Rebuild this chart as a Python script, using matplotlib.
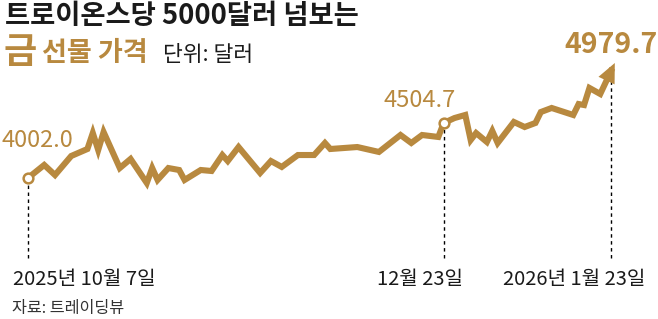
import matplotlib
matplotlib.use('Agg')
import matplotlib.pyplot as plt

# gold futures, days counted from 2025-10-07
days = [0, 3, 5, 8, 11, 12, 13, 14, 17, 19, 22, 23, 24, 26, 28, 29, 32, 34, 36, 37,
        39, 43, 45, 47, 50, 53, 55, 56, 61, 65, 69, 71, 73, 76, 77, 79, 81, 82, 83, 85,
        86, 87, 90, 92, 94, 95, 97, 101, 102, 103, 104, 106, 108]
prices = [4002.0, 4121, 4029, 4203, 4267, 4413, 4258, 4422, 4093, 4176, 3956, 4093, 3984, 4093,
          4075, 3984, 4075, 4066, 4212, 4157, 4285, 4048, 4157, 4103, 4212, 4212, 4322, 4267,
          4285, 4240, 4395, 4322, 4395, 4377, 4504.7, 4550, 4578, 4349, 4413, 4331, 4432,
          4322, 4514, 4468, 4505, 4605, 4642, 4578, 4678, 4669, 4825, 4770, 4979.7]

marked_days = [0, 77, 108]
marked_labels = ['2025년 10월 7일', '12월 23일', '2026년 1월 23일']

GOLD = '#B8893F'
KR_FONT = ['Noto Sans CJK KR', 'DejaVu Sans']

plt.rcParams['font.family'] = KR_FONT

fig = plt.figure(figsize=(6.58, 3.19), dpi=100)
ax = fig.add_axes([0, 0, 1, 1])
ax.axis('off')
ax.set_xlim(-5.19, 116.7)
ax.set_ylim(2713, 5629)

# dashed drop lines
dash_bottom = 3270
for d in marked_days:
    v = prices[days.index(d)]
    ax.vlines(d, dash_bottom, v, colors='black', linewidth=1, linestyles=(0, (2.5, 2.5)), zorder=1)

ax.plot(days, prices, color=GOLD, linewidth=4.4, solid_joinstyle='miter', zorder=2)

# arrow head at the end
tip = (days[-1] + 0.35 * (days[-1] - days[-2]), prices[-1] + 0.35 * (prices[-1] - prices[-2]))
ax.annotate('', xy=tip, xytext=(days[-2], prices[-2]),
            arrowprops=dict(arrowstyle='-|>,head_length=0.7,head_width=0.32', color=GOLD,
                            lw=0, mutation_scale=20, shrinkA=0, shrinkB=0), zorder=3)

# circles
for d in marked_days[:2]:
    ax.plot(d, prices[days.index(d)], 'o', ms=7, mfc='white', mec=GOLD, mew=1.8, zorder=4)

ax.annotate('4002.0', (0, prices[0]), xytext=(7, 27), textcoords='offset points',
            ha='center', va='center', fontsize=17, color=GOLD)
ax.annotate('4504.7', (77, prices[days.index(77)]), xytext=(-17, 16), textcoords='offset points',
            ha='center', va='center', fontsize=17, color=GOLD)
ax.annotate('4979.7', (108, prices[-1]), xytext=(0, 19), textcoords='offset points',
            ha='center', va='center', fontsize=20.5, color=GOLD, fontweight='bold')

# titles
fig.text(5 / 658, 1 - 16 / 319, '트로이온스당 5000달러 넘보는', ha='left', va='center',
         fontsize=19.7, fontweight='bold', color='#1a1a1a')
fig.text(4 / 658, 1 - 52 / 319, '금', ha='left', va='center',
         fontsize=26, fontweight='bold', color=GOLD)
fig.text(42 / 658, 1 - 53 / 319, '선물 가격', ha='left', va='center',
         fontsize=19.5, fontweight='bold', color=GOLD)
fig.text(163 / 658, 1 - 55 / 319, '단위: 달러', ha='left', va='center',
         fontsize=15.5, color='#1a1a1a')

# date labels
label_x = [13, 377, 503]
for lx, txt in zip(label_x, marked_labels):
    fig.text(lx / 658, 1 - 279 / 319, txt, ha='left', va='center', fontsize=14.5,
             color='#1a1a1a')

fig.text(12 / 658, 1 - 308 / 319, '자료: 트레이딩뷰', ha='left', va='center',
         fontsize=11.7, color='#333333')

fig.savefig('out.png', dpi=100)
